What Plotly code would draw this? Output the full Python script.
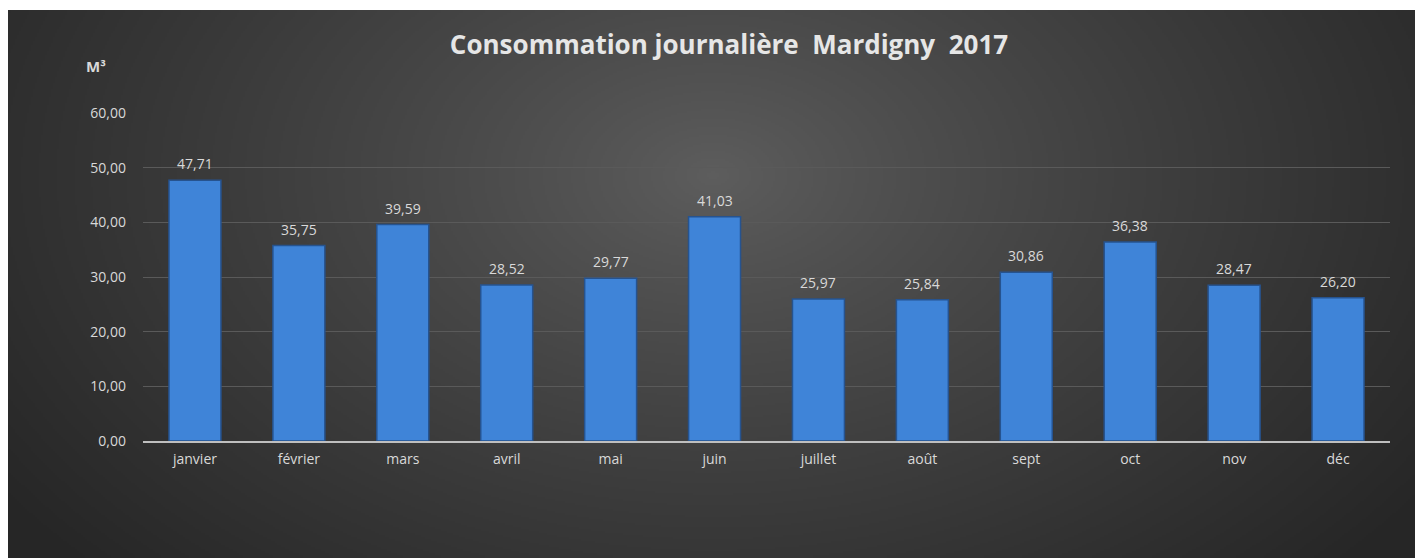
import base64, struct, zlib
import numpy as np
import plotly.graph_objects as go

months = ["janvier", "février", "mars", "avril", "mai", "juin",
          "juillet", "août", "sept", "oct", "nov", "déc"]
values = [47.71, 35.75, 39.59, 28.52, 29.77, 41.03,
          25.97, 25.84, 30.86, 36.38, 28.47, 26.20]
y_ticks = [0, 10, 20, 30, 40, 50, 60]


def png_data_uri(rgb):
    h, w, _ = rgb.shape
    raw = b"".join(b"\x00" + rgb[i].tobytes() for i in range(h))

    def chunk(tag, data):
        c = tag + data
        return struct.pack(">I", len(data)) + c + struct.pack(">I", zlib.crc32(c) & 0xFFFFFFFF)

    png = (b"\x89PNG\r\n\x1a\n"
           + chunk(b"IHDR", struct.pack(">IIBBBBB", w, h, 8, 2, 0, 0, 0))
           + chunk(b"IDAT", zlib.compress(raw, 9))
           + chunk(b"IEND", b""))
    return "data:image/png;base64," + base64.b64encode(png).decode()


# radial gradient background
W, H = 704, 274
yy, xx = np.mgrid[0:H, 0:W]
cx, cy = W * 0.5, H * 0.30
d = np.sqrt(((xx - cx) / (W * 0.62)) ** 2 + ((yy - cy) / (H * 1.05)) ** 2)
d = np.clip(d, 0, 1)
c_in, c_out = 94, 38
g = (c_in + (c_out - c_in) * d ** 0.85).astype(np.uint8)
img = np.stack([g, g, g], axis=-1)
bg_uri = png_data_uri(img)

L, R, T, B = 143, 25, 113, 117
pw = 1415 - L - R
ph = 558 - T - B

fig = go.Figure()
fig.add_trace(go.Bar(
    x=months, y=values,
    marker=dict(color="#3f84d8", line=dict(color="#26538f", width=1.5)),
    hoverinfo="x+y",
))

for m, v in zip(months, values):
    fig.add_annotation(x=m, y=v, text=f"{v:.2f}".replace(".", ","),
                       showarrow=False, yanchor="bottom", yshift=5,
                       font=dict(color="#d9d9d9", size=14, family="Open Sans"))

fig.add_layout_image(dict(
    source=bg_uri, xref="paper", yref="paper",
    x=(8 - L) / pw, y=(558 - 10 - B) / ph,
    sizex=(1415 - 8) / pw, sizey=(558 - 10) / ph,
    sizing="stretch", layer="below", xanchor="left", yanchor="top",
))

fig.add_annotation(text="<b>M³</b>", xref="paper", yref="paper",
                   x=(96 - L) / pw, y=(558 - 66 - B) / ph,
                   showarrow=False, xanchor="center", yanchor="middle",
                   font=dict(color="#d9d9d9", size=15, family="Open Sans"))

fig.update_layout(
    width=1415, height=558,
    margin=dict(l=L, r=R, t=T, b=B),
    paper_bgcolor="white",
    plot_bgcolor="rgba(0,0,0,0)",
    separators=", ",
    bargap=0.5,
    showlegend=False,
    title=dict(text="<b>Consommation journalière  Mardigny  2017</b>",
               x=729 / 1415, xanchor="center",
               y=1 - 45 / 558, yanchor="middle",
               font=dict(color="#e6e6e6", size=26, family="Open Sans")),
    font=dict(family="Open Sans", color="#d9d9d9"),
)
fig.update_yaxes(range=[0, 60], tickvals=y_ticks, tickformat=".2f",
                 showgrid=True, gridcolor="#5a5a5a", gridwidth=1,
                 zeroline=False, showline=False,
                 ticks="", ticklabelstandoff=16,
                 tickfont=dict(color="#d9d9d9", size=14, family="Open Sans"))
fig.update_xaxes(showline=True, linecolor="#bfbfbf", linewidth=2,
                 showgrid=False, ticks="", ticklabelstandoff=4,
                 tickfont=dict(color="#d9d9d9", size=14, family="Open Sans"))

fig.write_html("out.html", config={"displayModeBar": False},
               post_script="document.body.style.margin='0';document.body.style.padding='0';")
